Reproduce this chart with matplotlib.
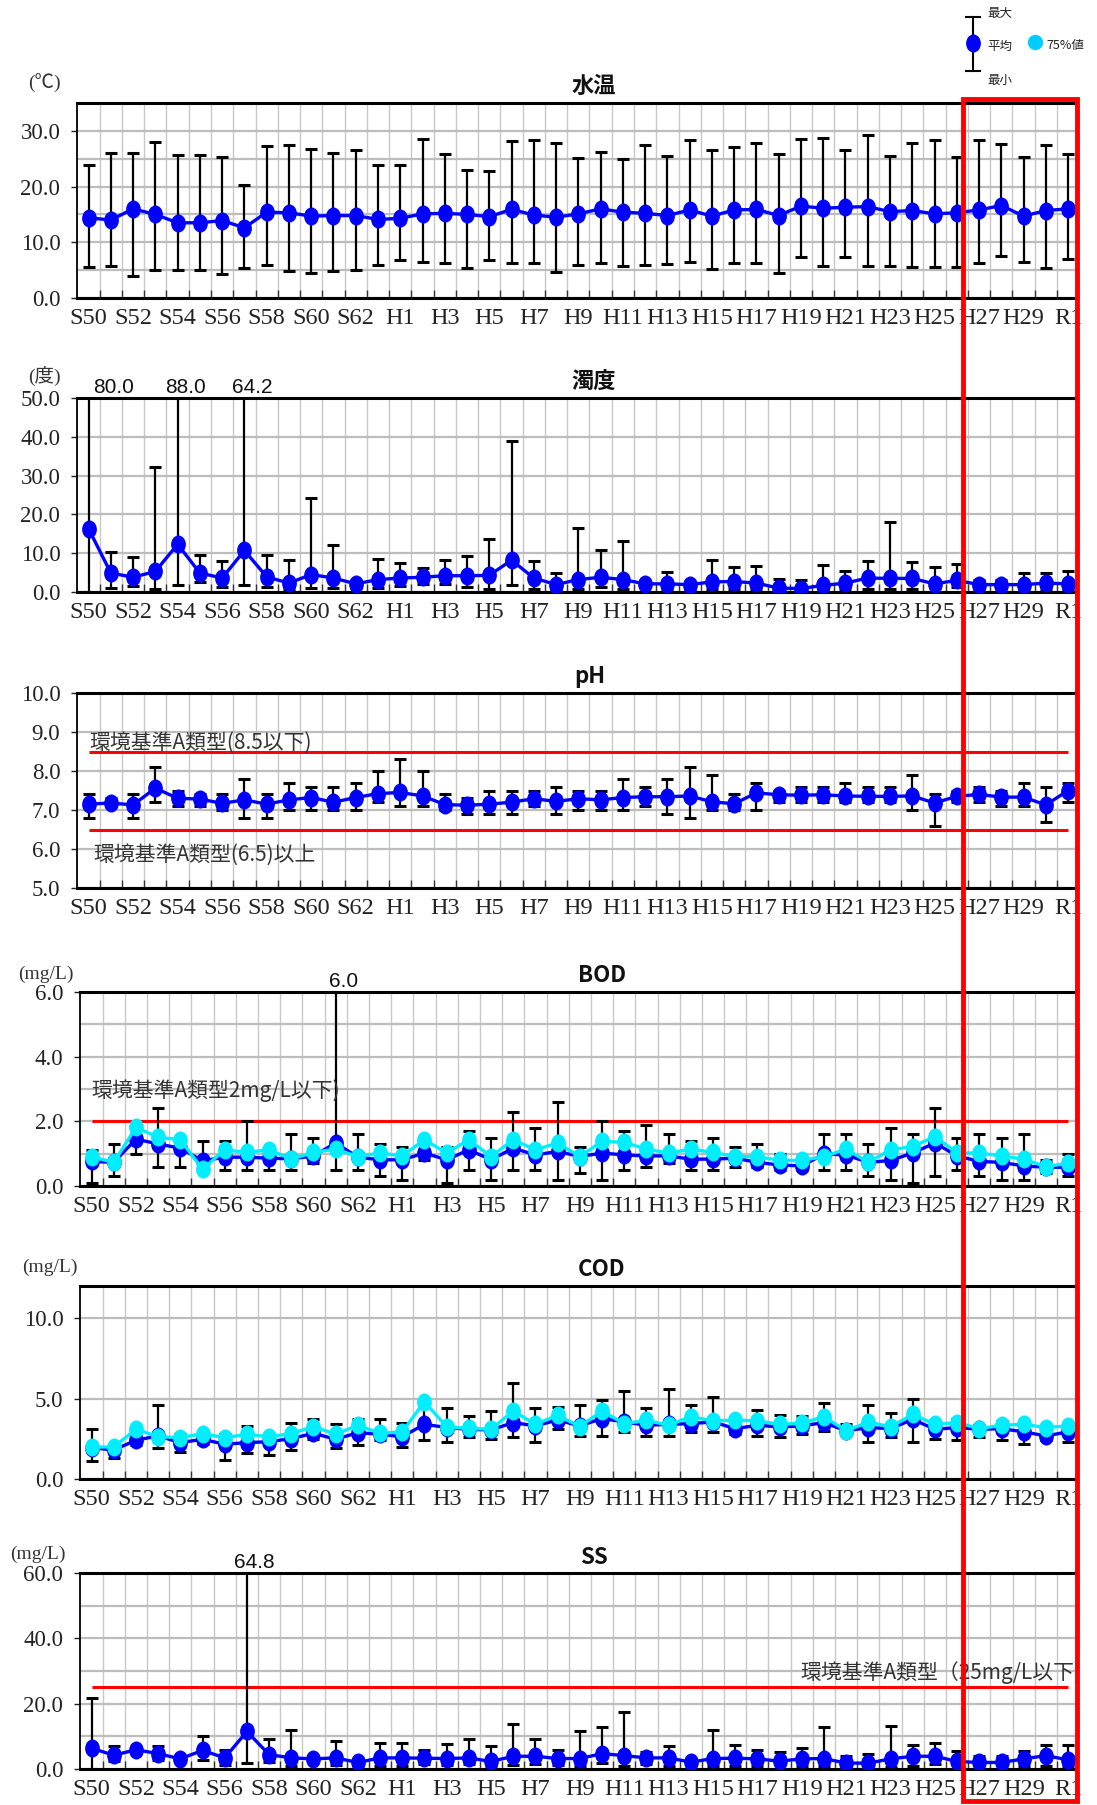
import numpy as np
import matplotlib.pyplot as plt
from matplotlib.path import Path
from matplotlib.transforms import Affine2D
from matplotlib.patches import Rectangle

plt.rcParams['font.family'] = ['Liberation Serif', 'Noto Sans CJK JP']

# Years S50 .. S63, H1 .. H30, R1
years = ['S%d' % y for y in range(50, 64)] + ['H%d' % y for y in range(1, 31)] + ['R1']

# 水温 (℃)
temp_mean = [14.4, 14.0, 16.0, 15.0, 13.5, 13.5, 13.9, 12.6, 15.4, 15.3,
             14.7, 14.8, 14.8, 14.1, 14.3, 15.1, 15.2, 15.0, 14.6, 15.9,
             14.9, 14.5, 15.1, 16.0, 15.4, 15.2, 14.8, 15.8, 14.7, 15.8,
             15.9, 14.8, 16.5, 16.1, 16.3, 16.4, 15.5, 15.7, 15.1, 15.3,
             15.8, 16.6, 14.7, 15.7, 16.0]
temp_max = [23.8, 26.0, 26.0, 28.0, 25.6, 25.6, 25.3, 20.2, 27.3, 27.5,
            26.7, 26.1, 26.5, 23.9, 23.9, 28.6, 25.9, 22.9, 22.8, 28.1,
            28.4, 27.8, 25.1, 26.2, 25.0, 27.4, 25.4, 28.3, 26.6, 27.1,
            27.8, 25.8, 28.6, 28.7, 26.6, 29.3, 25.5, 27.8, 28.3, 25.3,
            28.4, 27.7, 25.3, 27.4, 25.9]
temp_min = [5.6, 5.8, 4.0, 5.0, 5.0, 5.0, 4.3, 5.3, 5.9, 4.8,
            4.5, 4.9, 5.1, 5.9, 6.9, 6.5, 6.2, 5.3, 6.9, 6.3,
            6.3, 4.7, 5.9, 6.2, 5.8, 5.9, 6.1, 6.5, 5.2, 6.2,
            6.3, 4.5, 7.3, 5.7, 7.3, 5.7, 5.8, 5.6, 5.5, 5.6,
            6.2, 7.5, 6.5, 5.3, 7.0]

# 濁度 (度)
turb_mean = [16.3, 4.9, 3.8, 5.3, 12.3, 4.9, 3.6, 10.7, 3.9, 2.3,
             4.5, 3.6, 2.1, 3.2, 3.6, 3.8, 4.2, 4.2, 4.3, 8.2,
             3.6, 1.9, 3.2, 3.8, 3.2, 2.1, 2.1, 1.9, 2.6, 2.7,
             2.3, 1.0, 0.9, 1.7, 2.3, 3.6, 3.5, 3.5, 2.1, 3.0,
             1.9, 1.9, 1.9, 2.3, 2.1]
turb_max = [80.0, 10.2, 9.0, 32.2, 88.0, 9.6, 8.1, 64.2, 9.6, 8.3,
            24.2, 12.0, 2.7, 8.5, 7.5, 6.3, 8.2, 9.4, 13.7, 39.0,
            7.9, 4.9, 16.5, 10.7, 13.2, 2.7, 5.1, 2.7, 8.3, 6.4,
            6.8, 3.4, 3.0, 7.0, 5.5, 8.1, 18.0, 7.7, 6.5, 7.2,
            3.2, 3.2, 4.9, 4.9, 5.3]
turb_min = [0.1, 1.0, 1.5, 0.8, 1.8, 2.7, 1.3, 1.8, 1.3, 0.8,
            1.0, 1.0, 1.1, 1.1, 1.5, 2.1, 2.1, 1.3, 0.8, 1.8,
            0.8, 0.6, 0.8, 1.3, 0.9, 1.3, 0.9, 0.9, 0.8, 0.9,
            0.8, 0.1, 0.1, 0.4, 0.8, 0.9, 0.8, 0.9, 1.1, 1.3,
            1.1, 1.1, 0.9, 0.9, 0.9]
turb_outliers = [0, 4, 7]

# pH
ph_mean = [7.15, 7.18, 7.13, 7.56, 7.30, 7.28, 7.17, 7.26, 7.15, 7.26,
           7.32, 7.20, 7.32, 7.42, 7.45, 7.36, 7.14, 7.12, 7.15, 7.20,
           7.29, 7.22, 7.29, 7.26, 7.32, 7.34, 7.34, 7.36, 7.21, 7.16,
           7.44, 7.39, 7.38, 7.39, 7.36, 7.35, 7.35, 7.36, 7.18, 7.35,
           7.40, 7.33, 7.33, 7.13, 7.50]
ph_max = [7.4, 7.3, 7.4, 8.1, 7.5, 7.4, 7.4, 7.8, 7.4, 7.7,
          7.6, 7.6, 7.7, 8.0, 8.3, 8.0, 7.4, 7.3, 7.5, 7.5,
          7.5, 7.6, 7.5, 7.5, 7.8, 7.6, 7.8, 8.1, 7.9, 7.4,
          7.7, 7.5, 7.6, 7.6, 7.7, 7.6, 7.6, 7.9, 7.4, 7.5,
          7.6, 7.5, 7.7, 7.6, 7.7]
ph_min = [6.8, 7.1, 6.8, 7.2, 7.1, 7.1, 7.0, 6.8, 6.8, 7.0,
          7.0, 7.0, 7.0, 7.2, 7.1, 7.1, 7.0, 6.9, 6.9, 6.9,
          7.1, 6.9, 7.0, 7.0, 7.0, 7.1, 6.9, 6.8, 7.0, 7.0,
          7.0, 7.2, 7.2, 7.2, 7.2, 7.2, 7.2, 7.0, 6.6, 7.2,
          7.2, 7.1, 7.1, 6.7, 7.2]

# BOD (mg/L)
bod_mean = [0.76, 0.73, 1.45, 1.30, 1.17, 0.78, 0.89, 0.89, 0.86, 0.84,
            0.93, 1.33, 0.89, 0.81, 0.81, 1.02, 0.81, 1.12, 0.81, 1.17,
            0.96, 1.07, 0.91, 1.02, 0.96, 0.93, 0.93, 0.83, 0.83, 0.86,
            0.73, 0.65, 0.62, 0.99, 0.96, 0.73, 0.79, 1.02, 1.33, 0.93,
            0.76, 0.73, 0.62, 0.58, 0.58]
bod_p75 = [0.91, 0.73, 1.81, 1.51, 1.43, 0.52, 1.12, 1.04, 1.12, 0.83,
           1.04, 1.14, 0.91, 1.02, 0.93, 1.43, 1.02, 1.43, 0.91, 1.43,
           1.12, 1.33, 0.91, 1.38, 1.35, 1.14, 1.02, 1.14, 1.04, 0.91,
           0.91, 0.79, 0.79, 0.91, 1.14, 0.73, 1.12, 1.22, 1.53, 1.02,
           1.02, 0.93, 0.83, 0.60, 0.70]
bod_max = [1.1, 1.3, 1.8, 2.4, 1.5, 1.4, 1.4, 2.0, 1.2, 1.6,
           1.5, 6.0, 1.6, 1.3, 1.2, 1.5, 1.2, 1.7, 1.5, 2.3,
           1.8, 2.6, 1.2, 2.0, 1.7, 1.9, 1.6, 1.4, 1.5, 1.2,
           1.3, 1.0, 0.9, 1.6, 1.6, 1.3, 1.8, 1.6, 2.4, 1.5,
           1.6, 1.5, 1.6, 0.8, 1.0]
bod_min = [0.1, 0.3, 1.0, 0.6, 0.6, 0.5, 0.5, 0.5, 0.5, 0.5,
           0.7, 0.5, 0.5, 0.3, 0.2, 0.8, 0.1, 0.5, 0.2, 0.5,
           0.5, 0.2, 0.4, 0.2, 0.5, 0.6, 0.7, 0.5, 0.5, 0.6,
           0.6, 0.5, 0.5, 0.5, 0.5, 0.3, 0.2, 0.1, 0.3, 0.5,
           0.3, 0.2, 0.2, 0.4, 0.3]
bod_outliers = [11]

# COD (mg/L)
cod_mean = [1.95, 1.80, 2.41, 2.68, 2.26, 2.47, 2.16, 2.26, 2.32, 2.51,
            2.84, 2.47, 2.88, 2.78, 2.63, 3.40, 3.20, 3.09, 3.05, 3.51,
            3.30, 3.67, 3.30, 3.76, 3.55, 3.34, 3.40, 3.44, 3.55, 3.13,
            3.34, 3.24, 3.30, 3.51, 2.99, 3.20, 3.13, 3.71, 3.09, 3.20,
            3.09, 3.13, 2.93, 2.68, 2.93]
cod_p75 = [1.99, 1.99, 3.09, 2.63, 2.57, 2.82, 2.57, 2.78, 2.63, 2.82,
           3.26, 2.78, 3.34, 2.84, 2.93, 4.81, 3.24, 3.15, 3.09, 4.23,
           3.40, 3.96, 3.26, 4.23, 3.44, 3.65, 3.34, 3.88, 3.61, 3.67,
           3.61, 3.40, 3.46, 3.88, 2.99, 3.55, 3.24, 4.02, 3.40, 3.51,
           3.13, 3.34, 3.40, 3.20, 3.30]
cod_max = [3.1, 2.1, 3.2, 4.6, 2.8, 2.9, 2.8, 3.3, 2.8, 3.5,
           3.7, 3.4, 3.7, 3.7, 3.5, 4.9, 4.4, 3.9, 4.2, 6.0,
           4.4, 4.5, 4.6, 4.9, 5.5, 4.4, 5.6, 4.6, 5.1, 3.8,
           4.3, 4.0, 3.9, 4.7, 3.4, 4.6, 4.1, 5.0, 3.6, 3.7,
           3.3, 3.6, 3.6, 3.3, 3.4]
cod_min = [1.1, 1.3, 2.1, 1.9, 1.7, 2.2, 1.2, 1.6, 1.5, 1.8,
           2.5, 1.9, 2.1, 2.4, 2.0, 2.4, 2.3, 2.6, 2.5, 2.6,
           2.3, 3.1, 2.7, 2.7, 2.9, 2.7, 2.7, 2.9, 2.9, 2.8,
           2.7, 2.6, 2.8, 3.0, 2.8, 2.3, 2.6, 2.3, 2.5, 2.4,
           2.6, 2.4, 2.2, 2.4, 2.3]

# SS (mg/L)
ss_mean = [6.4, 4.2, 5.9, 4.7, 3.1, 5.7, 3.4, 11.5, 4.4, 3.4,
           3.1, 3.4, 2.0, 3.4, 3.4, 3.3, 3.2, 3.4, 2.3, 3.9,
           3.9, 3.2, 3.2, 4.7, 4.1, 3.4, 3.4, 2.1, 3.2, 3.3,
           3.1, 2.4, 3.1, 3.2, 1.8, 1.8, 3.1, 3.9, 3.9, 2.3,
           2.0, 2.0, 3.1, 4.1, 2.8]
ss_max = [21.7, 6.9, 6.5, 6.9, 3.5, 10.2, 5.7, 64.8, 9.2, 12.0,
          3.5, 8.5, 2.5, 8.1, 8.1, 5.9, 7.6, 9.2, 7.1, 13.7,
          9.2, 5.7, 11.6, 12.8, 17.5, 5.3, 7.1, 2.5, 12.0, 7.3,
          5.9, 5.3, 6.4, 12.8, 4.1, 4.7, 13.2, 7.4, 7.9, 5.5,
          4.1, 4.1, 5.5, 7.4, 7.4]
ss_min = [0.1, 2.3, 5.0, 2.8, 2.8, 2.8, 1.3, 1.8, 2.0, 1.0,
          2.7, 1.3, 1.5, 1.0, 1.0, 1.4, 1.2, 1.4, 1.0, 1.2,
          1.5, 1.2, 1.0, 1.8, 1.0, 1.4, 1.0, 1.5, 0.8, 1.0,
          1.0, 1.8, 1.0, 1.0, 1.2, 1.2, 0.6, 1.0, 1.4, 1.5,
          1.5, 1.5, 1.0, 1.0, 1.0]
ss_outliers = [7]

W, H = 1097, 1805
RIGHT = 1077
BLUE = '#0000FF'
CYAN = '#00EEFF'
RED = '#FF0000'
x = np.arange(len(years))

# slightly tall ellipse marker like the original chart
ellipse = Affine2D().scale(0.8, 1.0).transform_path(Path.unit_circle())

fig = plt.figure(figsize=(W / 100, H / 100), dpi=100)


def make_axes(top, bottom, left, right=RIGHT):
    return fig.add_axes([left / W, 1 - bottom / H, (right - left) / W, (bottom - top) / H])


def draw_panel(ax, mean, vmax, vmin, ylim, yticks, ygrid, p75=None, outliers=()):
    mean = np.array(mean)
    err = [mean - np.array(vmin), np.array(vmax) - mean]
    ax.errorbar(x, mean, yerr=err, fmt='none', ecolor='black', elinewidth=1.6,
                capsize=4.5, capthick=2.2, zorder=3)
    ax.plot(x, mean, color=BLUE, lw=2.4, marker=ellipse, ms=12,
            mfc=BLUE, mec=BLUE, zorder=4)
    if p75 is not None:
        ax.plot(x, p75, color=CYAN, lw=2.4, marker=ellipse, ms=12,
                mfc=CYAN, mec=CYAN, zorder=5)
    for i in outliers:
        ax.text(max(i + 0.35, 1.1), 1.004, '%.1f' % vmax[i], transform=ax.get_xaxis_transform(),
                ha='center', va='bottom', fontsize=15, family='Liberation Sans', color='#111111')

    ax.set_xlim(-0.52, 44.4)
    ax.set_ylim(*ylim)
    ax.set_xticks(x[::2])
    ax.set_xticklabels(years[::2])
    ax.set_xticks(x[:-1] + 0.5, minor=True)
    ax.set_yticks(yticks)
    ax.set_yticklabels(['%.1f' % v for v in yticks])
    ax.set_yticks(ygrid, minor=True)
    ax.tick_params(axis='x', which='major', length=0, pad=7, labelsize=17.5, colors='#222222')
    ax.tick_params(axis='x', which='minor', direction='in', length=6, width=1, color='#333333')
    ax.tick_params(axis='y', which='major', length=4, width=1, pad=8, labelsize=16.5, colors='#222222')
    ax.tick_params(axis='y', which='minor', length=0)
    ax.grid(which='minor', axis='x', color='#C8C8C8', lw=1.0)
    ax.grid(which='both', axis='y', color='#BDBDBD', lw=1.6)
    ax.set_axisbelow(True)
    for side in ['top', 'bottom']:
        ax.spines[side].set_linewidth(2.2)
    for side in ['left', 'right']:
        ax.spines[side].set_linewidth(1.3)


note = dict(family=['Noto Sans CJK JP'], fontsize=15, color='#333333')

# 水温
ax1 = make_axes(103, 298, 77)
draw_panel(ax1, temp_mean, temp_max, temp_min, (0, 35), [0, 10, 20, 30], [5, 15, 25])

# 濁度
ax2 = make_axes(398, 592, 77)
draw_panel(ax2, turb_mean, turb_max, turb_min, (0, 50), [0, 10, 20, 30, 40, 50], [],
           outliers=turb_outliers)

# pH
ax3 = make_axes(693, 888, 77)
draw_panel(ax3, ph_mean, ph_max, ph_min, (5, 10), [5, 6, 7, 8, 9, 10], [])
ax3.hlines([8.5, 6.5], 0, 44, color=RED, lw=2.2, zorder=2)
ax3.text(0.05, 8.72, '環境基準A類型(8.5以下)', va='center', ha='left', **note)
ax3.text(0.2, 5.86, '環境基準A類型(6.5)以上', va='center', ha='left', **note)

# BOD
ax4 = make_axes(992, 1186, 80)
draw_panel(ax4, bod_mean, bod_max, bod_min, (0, 6), [0, 2, 4, 6], [1, 3, 5],
           p75=bod_p75, outliers=bod_outliers)
ax4.hlines(2.0, 0, 44, color=RED, lw=2.2, zorder=2)
ax4.text(0.0, 2.95, '環境基準A類型2mg/L以下)', va='center', ha='left', **note)

# COD
ax5 = make_axes(1286, 1479, 80)
draw_panel(ax5, cod_mean, cod_max, cod_min, (0, 12), [0, 5, 10], [], p75=cod_p75)

# SS
ax6 = make_axes(1573, 1769, 80)
draw_panel(ax6, ss_mean, ss_max, ss_min, (0, 60), [0, 20, 40, 60], [10, 30, 50],
           outliers=ss_outliers)
ax6.hlines(25, 0, 44, color=RED, lw=2.2, zorder=2)
ax6.text(44.6, 29.5, '環境基準A類型（25mg/L以下)', va='center', ha='right', clip_on=False, **note)

# overlay in pixel coordinates for titles, units, legend and highlight box
ov = fig.add_axes([0, 0, 1, 1], zorder=20)
ov.set_xlim(0, W)
ov.set_ylim(H, 0)
ov.axis('off')

titles = ['水温', '濁度', 'pH', 'BOD', 'COD', 'SS']
title_y = [86, 381, 677, 976, 1270, 1557]
title_x = [594, 594, 590, 602, 602, 594]
for t, tx, ty in zip(titles, title_x, title_y):
    ov.text(tx, ty, t, ha='center', va='center', fontsize=16, fontweight='bold',
            family=['Noto Sans CJK JP'], color='#111111')

units = ['(℃)', '(度)', '(mg/L)', '(mg/L)', '(mg/L)']
unit_xy = [(44, 83), (44, 376), (46, 974), (50, 1267), (38, 1554)]
for u, (ux, uy) in zip(units, unit_xy):
    ov.text(ux, uy, u, ha='center', va='center', fontsize=14, color='#333333',
            family=['Liberation Serif', 'Noto Sans CJK JP'])

# legend
ov.plot([973, 973], [17, 71], color='black', lw=1.5)
ov.plot([966, 980], [17, 17], color='black', lw=1.5)
ov.plot([966, 980], [71, 71], color='black', lw=1.5)
ov.plot([973], [43], marker=ellipse, ms=12, color=BLUE)
ov.plot([1035], [42], marker='o', ms=10, color='#00CCFF')
leg = dict(family=['Noto Sans CJK JP'], fontsize=9, color='#222222', va='center', ha='left')
ov.text(987, 13, '最大', **leg)
ov.text(987, 46, '平均', **leg)
ov.text(987, 80, '最小', **leg)
ov.text(1046, 46, '75%値', **leg)

# red highlight box around H27 - R1
x_left = ax1.transData.transform((39.3, 0))[0]
ov.add_patch(Rectangle((x_left, 99), RIGHT - x_left, 1702, fill=False,
                       edgecolor=RED, lw=3.5, zorder=30))

fig.savefig('out.png', dpi=100)
